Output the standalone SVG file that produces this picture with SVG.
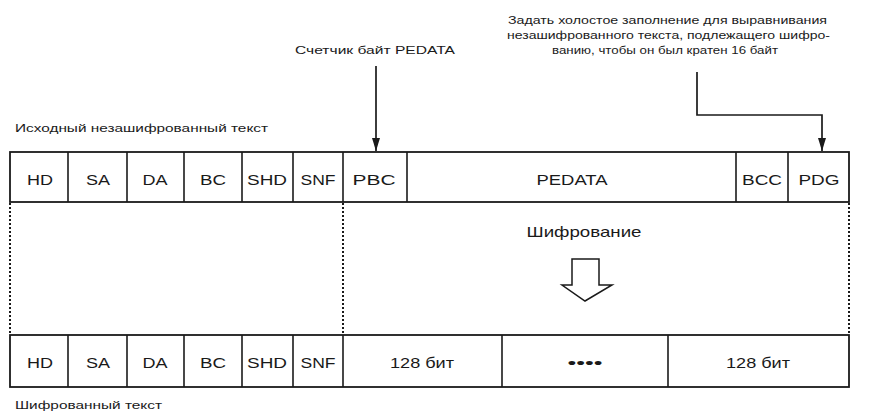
<svg xmlns="http://www.w3.org/2000/svg" width="891" height="412" viewBox="0 0 891 412">
<style>
.lbl{font-family:"Liberation Sans",Arial,sans-serif;font-size:11.5px;fill:#1a1a1a}
.cell{font-family:"Liberation Sans",Arial,sans-serif;font-size:14.5px;fill:#1a1a1a;text-anchor:middle}
.box{fill:#fff;stroke:#1a1a1a;stroke-width:1.8}
.div{stroke:#1a1a1a;stroke-width:1.6}
.dot{stroke:#1a1a1a;stroke-width:2;stroke-dasharray:2 2;fill:none}
.con{stroke:#1a1a1a;stroke-width:1.7;fill:none}
</style>
<defs>
<marker id="ah" markerWidth="13" markerHeight="8" refX="13" refY="4" orient="auto" markerUnits="userSpaceOnUse" viewBox="0 0 13 8">
<path d="M0,0 L13,4 L0,8 Z" fill="#1a1a1a"/>
</marker>
</defs>
<rect width="891" height="412" fill="#fff"/>

<g id="labels">
<text class="lbl" x="295" y="54" textLength="160" lengthAdjust="spacingAndGlyphs">Счетчик байт PEDATA</text>
<text class="lbl" x="508" y="24" textLength="319" lengthAdjust="spacingAndGlyphs">Задать холостое заполнение для выравнивания</text>
<text class="lbl" x="507" y="39" textLength="323" lengthAdjust="spacingAndGlyphs">незашифрованного текста, подлежащего шифро-</text>
<text class="lbl" x="552" y="54" textLength="226" lengthAdjust="spacingAndGlyphs">ванию, чтобы он был кратен 16 байт</text>
<text class="lbl" x="15" y="132" textLength="253" lengthAdjust="spacingAndGlyphs">Исходный незашифрованный текст</text>
<text class="lbl" x="15" y="409" textLength="147" lengthAdjust="spacingAndGlyphs">Шифрованный текст</text>
</g>

<g id="plaintext-row">
<rect class="box" x="10" y="152" width="839" height="50"/>
<line class="div" x1="68" y1="152" x2="68" y2="202"/>
<line class="div" x1="127" y1="152" x2="127" y2="202"/>
<line class="div" x1="184" y1="152" x2="184" y2="202"/>
<line class="div" x1="242" y1="152" x2="242" y2="202"/>
<line class="div" x1="293" y1="152" x2="293" y2="202"/>
<line class="div" x1="343" y1="152" x2="343" y2="202"/>
<line class="div" x1="407" y1="152" x2="407" y2="202"/>
<line class="div" x1="736" y1="152" x2="736" y2="202"/>
<line class="div" x1="788" y1="152" x2="788" y2="202"/>
<text class="cell" x="40" y="185" textLength="26" lengthAdjust="spacingAndGlyphs">HD</text>
<text class="cell" x="98" y="185" textLength="24" lengthAdjust="spacingAndGlyphs">SA</text>
<text class="cell" x="155" y="185" textLength="25" lengthAdjust="spacingAndGlyphs">DA</text>
<text class="cell" x="213" y="185" textLength="26" lengthAdjust="spacingAndGlyphs">BC</text>
<text class="cell" x="267" y="185" textLength="40" lengthAdjust="spacingAndGlyphs">SHD</text>
<text class="cell" x="318" y="185" textLength="35" lengthAdjust="spacingAndGlyphs">SNF</text>
<text class="cell" x="374" y="185" textLength="43" lengthAdjust="spacingAndGlyphs">PBC</text>
<text class="cell" x="572" y="185" textLength="71" lengthAdjust="spacingAndGlyphs">PEDATA</text>
<text class="cell" x="762" y="185" textLength="40" lengthAdjust="spacingAndGlyphs">BCC</text>
<text class="cell" x="819" y="185" textLength="41" lengthAdjust="spacingAndGlyphs">PDG</text>
</g>

<g id="encryption">
<text class="cell" x="584" y="237" textLength="115" lengthAdjust="spacingAndGlyphs">Шифрование</text>
<path d="M572,259 L599,259 L599,285 L612,285 L585,301 L562,285 L572,285 Z" fill="#fff" stroke="#1a1a1a" stroke-width="1.5" stroke-linejoin="miter"/>
</g>

<g id="ciphertext-row">
<rect class="box" x="10" y="335" width="839" height="52"/>
<line class="div" x1="68" y1="335" x2="68" y2="387"/>
<line class="div" x1="127" y1="335" x2="127" y2="387"/>
<line class="div" x1="184" y1="335" x2="184" y2="387"/>
<line class="div" x1="242" y1="335" x2="242" y2="387"/>
<line class="div" x1="293" y1="335" x2="293" y2="387"/>
<line class="div" x1="343" y1="335" x2="343" y2="387"/>
<line class="div" x1="502" y1="335" x2="502" y2="387"/>
<line class="div" x1="668" y1="335" x2="668" y2="387"/>
<text class="cell" x="40" y="368" textLength="26" lengthAdjust="spacingAndGlyphs">HD</text>
<text class="cell" x="98" y="368" textLength="24" lengthAdjust="spacingAndGlyphs">SA</text>
<text class="cell" x="155" y="368" textLength="25" lengthAdjust="spacingAndGlyphs">DA</text>
<text class="cell" x="213" y="368" textLength="26" lengthAdjust="spacingAndGlyphs">BC</text>
<text class="cell" x="267" y="368" textLength="40" lengthAdjust="spacingAndGlyphs">SHD</text>
<text class="cell" x="318" y="368" textLength="35" lengthAdjust="spacingAndGlyphs">SNF</text>
<text class="cell" x="422" y="368" textLength="64" lengthAdjust="spacingAndGlyphs">128 бит</text>
<text class="cell" x="585" y="368" textLength="35" lengthAdjust="spacingAndGlyphs">••••</text>
<text class="cell" x="758" y="368" textLength="64" lengthAdjust="spacingAndGlyphs">128 бит</text>
</g>

<g id="connectors">
<line class="dot" x1="10" y1="203" x2="10" y2="335"/>
<line class="dot" x1="343" y1="203" x2="343" y2="335"/>
<line class="dot" x1="849" y1="203" x2="849" y2="335"/>
<line class="con" x1="376" y1="66" x2="376" y2="151" marker-end="url(#ah)"/>
<polyline class="con" points="697,72 697,115 822,115 822,151" marker-end="url(#ah)"/>
</g>
</svg>
